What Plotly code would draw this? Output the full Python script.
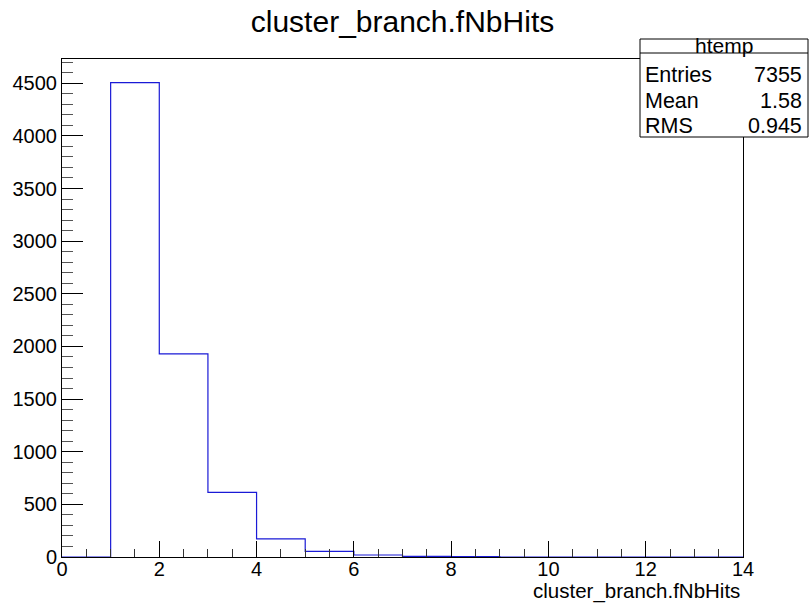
import plotly.graph_objects as go

# ---- data ----
bin_edges = list(range(0, 15))            # 0..14, width 1
counts = [0, 4505, 1929, 614, 172, 54, 19, 5, 4, 0, 0, 0, 0, 0]
title_text = "cluster_branch.fNbHits"
x_label = "cluster_branch.fNbHits"
stats_name = "htemp"
stats_labels = ["Entries", "Mean", "RMS"]
stats_values = ["7355", "1.58", "0.945"]

W, H = 809, 607
L, R, T, B = 62, 66, 59, 50
PW, PH = W - L - R, H - T - B

def px(xp):
    return (xp - L) / PW

def py(yp):
    return (H - B - yp) / PH

FONT = "Liberation Sans, Arial, Helvetica, sans-serif"

step_x = bin_edges
step_y = counts + [counts[-1]]

fig = go.Figure()
fig.add_trace(go.Scatter(
    x=step_x, y=step_y, mode="lines", line_shape="hv",
    line=dict(color="#1a1ad6", width=1.2), hoverinfo="skip", showlegend=False,
))

ymax = max(counts) * 1.05

fig.update_layout(
    width=W, height=H,
    margin=dict(l=L, r=R, t=T, b=B, pad=0),
    paper_bgcolor="white", plot_bgcolor="white",
    font=dict(family=FONT, size=20, color="black"),
    title=dict(text=title_text, x=0.5, xanchor="center", xref="paper",
               y=1 - 21 / H, yanchor="middle", yref="container",
               font=dict(family=FONT, size=30, color="black")),
    showlegend=False,
)

fig.update_xaxes(
    range=[0, 14], tickmode="linear", tick0=0, dtick=2,
    ticks="inside", ticklen=16, tickwidth=1, tickcolor="black",
    showline=True, linecolor="black", linewidth=1, mirror=True,
    showgrid=False, zeroline=False, ticklabelstandoff=-6,
    tickfont=dict(family=FONT, size=20, color="black"),
    minor=dict(dtick=0.5, tick0=0, ticks="inside", ticklen=8, tickwidth=1,
               tickcolor="#333", showgrid=False),
)
fig.update_yaxes(
    range=[0, ymax], tickmode="linear", tick0=0, dtick=500,
    ticks="inside", ticklen=21, tickwidth=1, tickcolor="black",
    showline=True, linecolor="black", linewidth=1, mirror=True,
    showgrid=False, zeroline=False,
    tickfont=dict(family=FONT, size=20, color="black"),
    minor=dict(dtick=100, tick0=0, ticks="inside", ticklen=11, tickwidth=1,
               tickcolor="#555", showgrid=False),
)

# x-axis title (ROOT style: right aligned under axis)
fig.add_annotation(text=x_label, xref="paper", yref="paper",
                   x=px(742), y=py(591), xanchor="right", yanchor="middle",
                   showarrow=False, font=dict(family=FONT, size=20.5, color="black"))

# stats box
bx0, bx1, by0, by1, bhead = 640, 808, 39, 137, 53
fig.add_shape(type="rect", xref="paper", yref="paper",
              x0=px(bx0), x1=px(bx1), y0=py(by1), y1=py(by0),
              line=dict(color="black", width=1), fillcolor="white", layer="above")
fig.add_shape(type="line", xref="paper", yref="paper",
              x0=px(bx0), x1=px(bx1), y0=py(bhead), y1=py(bhead),
              line=dict(color="black", width=1), layer="above")
fig.add_annotation(text=stats_name, xref="paper", yref="paper",
                   x=px((bx0 + bx1) / 2), y=py(46), xanchor="center", yanchor="middle",
                   showarrow=False, font=dict(family=FONT, size=21, color="black"))
row_y = [75, 101, 126]
for lab, val, ry in zip(stats_labels, stats_values, row_y):
    fig.add_annotation(text=lab, xref="paper", yref="paper",
                       x=px(643), y=py(ry), xanchor="left", yanchor="middle",
                       showarrow=False, font=dict(family=FONT, size=21.5, color="black"))
    fig.add_annotation(text=val, xref="paper", yref="paper",
                       x=px(804), y=py(ry), xanchor="right", yanchor="middle",
                       showarrow=False, font=dict(family=FONT, size=21.5, color="black"))

fig.write_html("out.html")
